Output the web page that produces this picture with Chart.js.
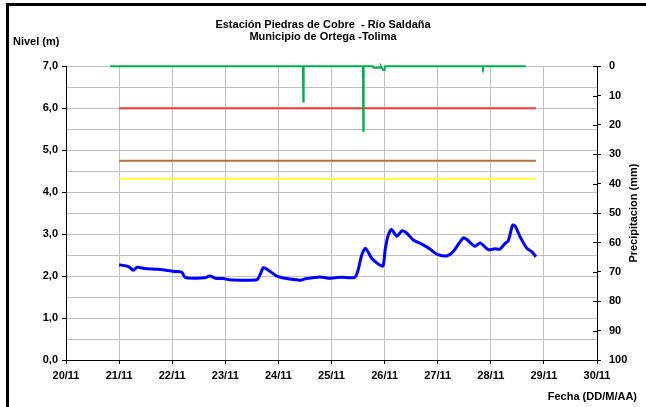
<!DOCTYPE html>
<html>
<head>
<meta charset="utf-8">
<script src="https://cdn.jsdelivr.net/npm/chart.js@4"></script>
<style>
  body { margin: 0; background: #fff; }
  #wrap { position: relative; width: 646px; height: 407px; overflow: hidden; }
  #marco { position: absolute; left: 6px; top: 3px; width: 700px; height: 500px;
           border-left: 3px solid #000; border-top: 3px solid #000; pointer-events: none; }
</style>
</head>
<body>
<div id="wrap">
  <canvas id="nivelChart" width="646" height="407"></canvas>
  <div id="marco"></div>
</div>
<script>
// eje x: dias desde el 20/11
const fechaTicks = ["20/11", "21/11", "22/11", "23/11", "24/11", "25/11",
                    "26/11", "27/11", "28/11", "29/11", "30/11"];

// nivel del rio (m)
const nivelDia = [1.00, 1.17, 1.27, 1.34, 1.49, 1.74, 2.05, 2.18, 2.24, 2.43,
                  2.62, 2.71, 2.81, 2.96, 3.09, 3.59, 3.65, 3.72, 3.81, 3.97,
                  4.16, 4.35, 4.41, 4.53, 4.78, 4.94, 5.07, 5.19, 5.44, 5.50,
                  5.57, 5.64, 5.76, 5.88, 5.97, 6.01, 6.06, 6.13, 6.23, 6.33,
                  6.42, 6.54, 6.70, 6.86, 6.98, 7.17, 7.29, 7.48, 7.55, 7.70,
                  7.80, 7.95, 8.08, 8.17, 8.27, 8.33, 8.41, 8.46, 8.55, 8.68,
                  8.77, 8.85];
const nivelM = [2.27, 2.23, 2.14, 2.21, 2.18, 2.16, 2.11, 2.09, 1.97, 1.95,
                1.96, 2.00, 1.95, 1.94, 1.91, 1.91, 2.02, 2.20, 2.14, 2.00,
                1.94, 1.91, 1.90, 1.94, 1.98, 1.95, 1.96, 1.97, 1.97, 2.14,
                2.50, 2.66, 2.42, 2.29, 2.24, 2.62, 2.94, 3.11, 2.95, 3.08,
                3.02, 2.86, 2.76, 2.64, 2.52, 2.48, 2.58, 2.91, 2.87, 2.71,
                2.79, 2.63, 2.65, 2.64, 2.78, 2.84, 3.21, 3.19, 2.94, 2.66,
                2.58, 2.46];

// precipitacion (mm)
const precipDia = [0.83, 4.462, 4.469, 4.476, 5.592, 5.599, 5.606, 5.78, 5.79,
                   5.92, 5.93, 5.97, 6.00, 6.01, 7.846, 7.853, 7.860, 8.66];
const precipMm = [0, 0, 12, 0, 0, 22, 0, 0, 0.5,
                  0.5, 0, 1.3, 1.3, 0, 0, 0.4, 0, 0];

// umbrales de alerta (m)
const umbralRojo = 6.0;
const umbralNaranja = 4.75;
const umbralAmarillo = 4.32;

const fuente = { family: '"Liberation Sans", Arial, sans-serif', size: 11, weight: "bold" };

function serie(xs, ys) {
  return xs.map((x, i) => ({ x, y: ys[i] }));
}
function umbral(valor) {
  return [
    { x: nivelDia[0], y: valor },
    { x: nivelDia[nivelDia.length - 1], y: valor },
  ];
}

// textos fuera del area del grafico
const textosExtra = {
  id: "textosExtra",
  afterDraw(chart) {
    const { ctx, chartArea, scales } = chart;
    ctx.save();
    ctx.font = 'bold 11px "Liberation Sans", Arial, sans-serif';
    ctx.fillStyle = "#000";
    ctx.textBaseline = "middle";
    ctx.textAlign = "left";
    ctx.fillText("Nivel (m)", 13, chartArea.top - 24);
    ctx.textAlign = "right";
    ctx.fillText("Fecha (DD/M/AA)", 637, chartArea.bottom + 37);
    // marcas cruzadas del eje derecho
    ctx.strokeStyle = "#000";
    ctx.lineWidth = 1;
    scales.y2.ticks.forEach((t) => {
      const py = Math.round(scales.y2.getPixelForValue(t.value)) + 0.5;
      ctx.beginPath();
      ctx.moveTo(chartArea.right - 4, py);
      ctx.lineTo(chartArea.right, py);
      ctx.stroke();
    });
    ctx.translate(634, (chartArea.top + chartArea.bottom) / 2);
    ctx.rotate(-Math.PI / 2);
    ctx.textAlign = "center";
    ctx.fillText("Precipitacion (mm)", 0, 0);
    ctx.restore();
  },
};

new Chart(document.getElementById("nivelChart").getContext("2d"), {
  type: "line",
  data: {
    datasets: [
      {
        label: "Nivel",
        data: serie(nivelDia, nivelM),
        borderColor: "#0000FF",
        borderWidth: 3,
        pointRadius: 0,
        tension: 0.25,
        yAxisID: "y",
      },
      {
        label: "Precipitacion",
        data: serie(precipDia, precipMm),
        borderColor: "#00B050",
        borderWidth: 2,
        pointRadius: 0,
        tension: 0,
        clip: false,
        yAxisID: "y2",
      },
      {
        label: "Umbral rojo",
        data: umbral(umbralRojo),
        borderColor: "#FF3333",
        borderWidth: 2,
        pointRadius: 0,
        yAxisID: "y",
      },
      {
        label: "Umbral naranja",
        data: umbral(umbralNaranja),
        borderColor: "#B8703A",
        borderWidth: 2,
        pointRadius: 0,
        yAxisID: "y",
      },
      {
        label: "Umbral amarillo",
        data: umbral(umbralAmarillo),
        borderColor: "#FFFF33",
        borderWidth: 2,
        pointRadius: 0,
        yAxisID: "y",
      },
    ],
  },
  options: {
    responsive: false,
    animation: false,
    devicePixelRatio: 1,
    layout: { padding: 0 },
    plugins: {
      legend: { display: false },
      tooltip: { enabled: false },
      title: {
        display: true,
        text: ["Estación Piedras de Cobre  - Río Saldaña", "Municipio de Ortega -Tolima"],
        color: "#000",
        font: { ...fuente, lineHeight: 1.1 },
        padding: { top: 19, bottom: 23 },
      },
    },
    scales: {
      x: {
        type: "linear",
        min: 0,
        max: 10,
        ticks: {
          stepSize: 1,
          autoSkip: false,
          maxRotation: 0,
          color: "#000",
          font: fuente,
          padding: 5,
          callback: (v) => fechaTicks[Math.round(v)],
        },
        grid: { color: "#c0c0c0", tickColor: "#000", tickLength: 4 },
        border: { color: "#000", width: 1 },
        afterFit: (s) => { s.height = 47; },
      },
      y: {
        position: "left",
        min: 0,
        max: 7,
        ticks: {
          stepSize: 0.5,
          color: "#000",
          font: fuente,
          padding: 4,
          callback: (v) => (Number.isInteger(v) ? v.toFixed(1).replace(".", ",") : ""),
        },
        grid: {
          color: "#c0c0c0",
          tickLength: 4,
          tickColor: (c) => (Number.isInteger(c.tick.value) ? "#000" : "rgba(0,0,0,0)"),
        },
        border: { color: "#000", width: 1 },
        afterFit: (s) => { s.width = 66; },
      },
      y2: {
        position: "right",
        reverse: true,
        min: 0,
        max: 100,
        ticks: { stepSize: 10, color: "#000", font: fuente, padding: 8 },
        grid: { drawOnChartArea: false, tickColor: "#000", tickLength: 4 },
        border: { color: "#000", width: 1 },
        afterFit: (s) => { s.width = 49; },
      },
    },
  },
  plugins: [textosExtra],
});
</script>
</body>
</html>
